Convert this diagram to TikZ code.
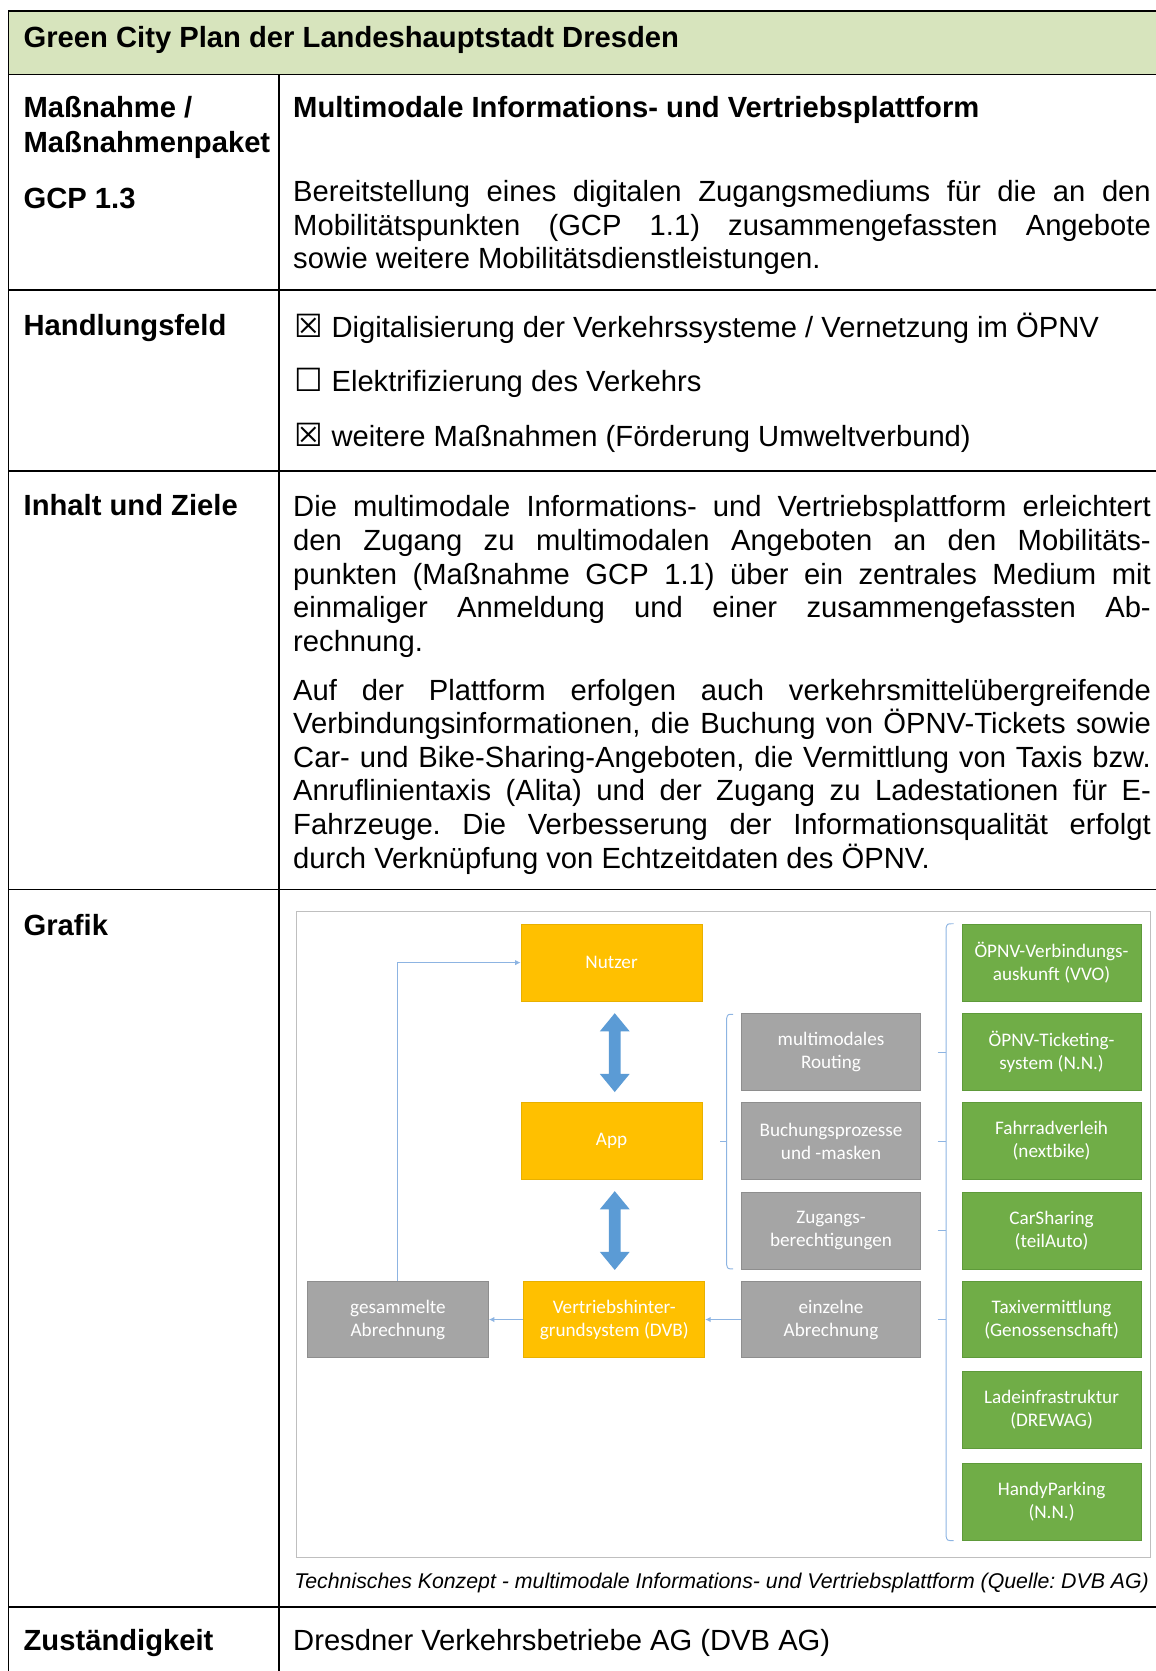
\documentclass[tikz,border=0pt]{standalone}
\usepackage{fontspec}
\setmainfont{Liberation Sans}
\newfontfamily\calfont{Carlito}
\newfontfamily\symfont{DejaVu Sans}
\usetikzlibrary{calc,arrows.meta}
\frenchspacing
\definecolor{hdgreen}{HTML}{D7E4BD}
\definecolor{dvorange}{HTML}{FFC000}
\definecolor{dvorangeD}{HTML}{E8B000}
\definecolor{dvgray}{HTML}{A5A5A5}
\definecolor{dvgrayD}{HTML}{8E8E8E}
\definecolor{dvgreen}{HTML}{70AD47}
\definecolor{dvgreenD}{HTML}{5E9A3A}
\definecolor{lineblue}{HTML}{8DB4E2}
\definecolor{arrowblue}{HTML}{5B9BD5}
\definecolor{framegray}{HTML}{BFBFBF}
\tikzset{
  cell/.style={anchor=base west, inner sep=0pt, font=\fontsize{27.4}{31.5}\selectfont},
  bcell/.style={anchor=base west, inner sep=0pt, font=\fontsize{27.4}{31.5}\selectfont\bfseries},
  para/.style={anchor=north west, inner sep=0pt, text width=805pt, align=justify, font=\fontsize{27.4}{31.5}\selectfont},
  cbox/.style={anchor=base west, inner sep=0pt, font=\symfont\fontsize{30}{34}\selectfont},
  box/.style={minimum width=170pt, minimum height=72pt, inner sep=0pt, align=center, text=white, font=\calfont\fontsize{18}{21.5}\selectfont, line width=0.8pt},
  obox/.style={box, fill=dvorange, draw=dvorangeD},
  gbox/.style={box, fill=dvgray, draw=dvgrayD},
  grbox/.style={box, fill=dvgreen, draw=dvgreenD, minimum width=168pt},
  conn/.style={draw=lineblue, line width=0.9pt, -{Latex[length=5pt,width=5pt]}},
  brk/.style={draw=lineblue, line width=0.9pt},
  rulel/.style={line width=1.6pt, line cap=rect},
}
\newcommand\dblarrow[3]{%
  \fill[arrowblue] (#1,#2) -- ++(14,17) -- ++(-8.5,0) -- (#1+5.5,#3-17) -- ++(8.5,0) -- (#1,#3)
    -- ++(-14,-17) -- ++(8.5,0) -- (#1-5.5,#2+17) -- ++(-8.5,0) -- cycle;}
\begin{document}
\begin{tikzpicture}[x=1pt,y=-1pt]
\useasboundingbox (0,0) rectangle (1085,1568.4);
% header band
\fill[hdgreen] (8,10) rectangle (1085,70);
% table rules
\draw[rulel] (8,10) -- (1085,10);
\draw[rulel] (8,70) -- (1085,70);
\draw[rulel] (8,272) -- (1085,272);
\draw[rulel] (8,442) -- (1085,442);
\draw[rulel] (8,835) -- (1085,835);
\draw[rulel] (8,1508) -- (1085,1508);
\draw[rulel] (8,10) -- (8,1570);
\draw[rulel] (262,70) -- (262,1570);

% texts
\node[bcell] (title) at (22,45) {Green City Plan der Landeshauptstadt Dresden};
\node[bcell] (m1) at (22,110) {Maßnahme /};
\node[bcell] (m2) at (22,143) {Maßnahmenpaket};
\node[bcell] (gcp) at (22,196) {GCP 1.3};
\node[bcell] (mtitle) at (275,110) {Multimodale Informations- und Vertriebsplattform};
\node[para] (p0) at (275,161) {\rule{0pt}{28pt}Bereitstellung eines digitalen Zugangsmediums für die an den\linebreak
Mobilitätspunkten (GCP 1.1) zusammengefassten Angebote\linebreak
sowie weitere Mobilitätsdienstleistungen.};

\node[bcell] (hf) at (22,315) {Handlungsfeld};
\node[cbox] (cb1) at (276,317) {☒};
\node[cell] (h1) at (311,317) {Digitalisierung der Verkehrssysteme / Vernetzung im ÖPNV};
\node[cbox] (cb2) at (276,367) {☐};
\node[cell] (h2) at (311,367) {Elektrifizierung des Verkehrs};
\node[cbox] (cb3) at (276,419) {☒};
\node[cell] (h3) at (311,419) {weitere Maßnahmen (Förderung Umweltverbund)};

\node[bcell] (iz) at (22,484) {Inhalt und Ziele};
\node[para] (p1) at (275,457) {\rule{0pt}{28pt}Die multimodale Informations- und Vertriebsplattform erleichtert\linebreak
den Zugang zu multimodalen Angeboten an den Mobilitäts-\linebreak
punkten (Maßnahme GCP 1.1) über ein zentrales Medium mit\linebreak
einmaliger Anmeldung und einer zusammengefassten Ab-\linebreak
rechnung.};
\node[para] (p2) at (275,629) {\rule{0pt}{28pt}Auf der Plattform erfolgen auch verkehrsmittelübergreifende\linebreak
Verbindungsinformationen, die Buchung von ÖPNV-Tickets sowie\linebreak
Car- und Bike-Sharing-Angeboten, die Vermittlung von Taxis bzw.\linebreak
Anruflinientaxis (Alita) und der Zugang zu Ladestationen für E-\linebreak
Fahrzeuge. Die Verbesserung der Informationsqualität erfolgt\linebreak
durch Verknüpfung von Echtzeitdaten des ÖPNV.};

\node[bcell] (gr) at (22,878) {Grafik};
\node[anchor=base west, inner sep=0pt, font=\fontsize{20}{24}\selectfont\itshape] (cap) at (276,1491)
  {Technisches Konzept - multimodale Informations- und Vertriebsplattform (Quelle: DVB AG)};

\node[bcell] (zu) at (22,1549) {Zuständigkeit};
\node[cell] (dvb) at (275,1549) {Dresdner Verkehrsbetriebe AG (DVB AG)};

% graphic frame
\draw[framegray, line width=0.8pt] (278,855) rectangle (1080,1462);

% graphic boxes
\node[obox] (nutzer) at (574,903.5) {Nutzer};
\node[obox] (app) at (574,1071) {App};
\node[obox] (vert) at (576.5,1238.5) {Vertriebshinter-\\grundsystem (DVB)};
\node[gbox] (ges) at (373.5,1238.5) {gesammelte\\Abrechnung};
\node[gbox, minimum width=168pt] (einz) at (780,1238.5) {einzelne\\Abrechnung};
\node[gbox, minimum width=168pt] (rout) at (780,987.5) {multimodales\\Routing};
\node[gbox, minimum width=168pt] (buch) at (780,1071) {Buchungsprozesse\\und -masken};
\node[gbox, minimum width=168pt] (zug) at (780,1155) {Zugangs-\\berechtigungen};

\node[grbox] (g1) at (987,903.5) {ÖPNV-Verbindungs-\\auskunft (VVO)};
\node[grbox] (g2) at (987,987.5) {ÖPNV-Ticketing-\\system (N.N.)};
\node[grbox] (g3) at (987,1071) {Fahrradverleih\\(nextbike)};
\node[grbox] (g4) at (987,1155) {CarSharing\\(teilAuto)};
\node[grbox] (g5) at (987,1238.5) {Taxivermittlung\\(Genossenschaft)};
\node[grbox] (g6) at (987,1323.5) {Ladeinfrastruktur\\(DREWAG)};
\node[grbox] (g7) at (987,1409.5) {HandyParking\\(N.N.)};

% connectors
\draw[conn] (ges.north) |- (nutzer.west);
\draw[conn] (vert.west) -- (ges.east);
\draw[conn] (einz.west) -- (vert.east);

% fat double arrows
\dblarrow{577}{951}{1025}
\dblarrow{577}{1118}{1192}

% bracket 1
\draw[brk] (688,952) .. controls (683,952) .. (682,956) -- (682,1187) .. controls (683,1191) .. (688,1191);
\draw[brk] (676,1071) -- (682,1071);
% bracket 2
\draw[brk] (895,867) .. controls (889,867) .. (888,871) -- (888,1442) .. controls (889,1446) .. (895,1446);
\draw[brk] (880,988) -- (888,988);
\draw[brk] (880,1071) -- (888,1071);
\draw[brk] (880,1155) -- (888,1155);
\draw[brk] (880,1238) -- (888,1238);
\end{tikzpicture}
\end{document}
